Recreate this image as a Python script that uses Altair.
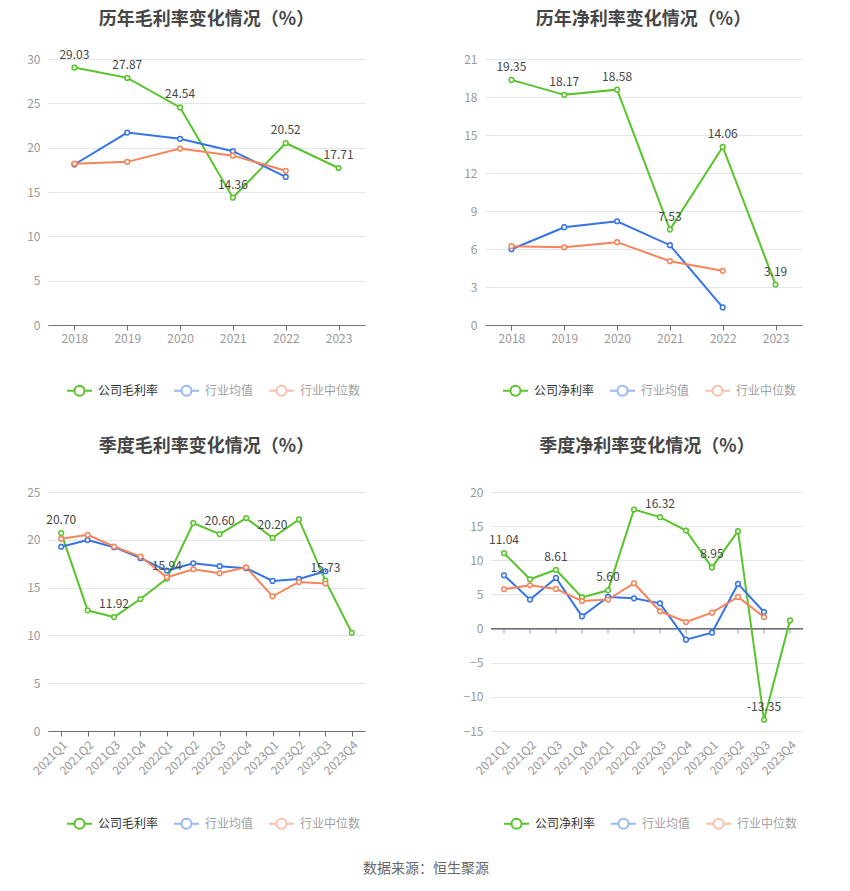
import altair as alt
import pandas as pd

FONT = "Noto Sans CJK SC"
GREEN = "#58C42A"
BLUE = "#3574E6"
ORANGE = "#F7835A"

years = ["2018", "2019", "2020", "2021", "2022", "2023"]
quarters = ["2021Q1", "2021Q2", "2021Q3", "2021Q4", "2022Q1", "2022Q2",
            "2022Q3", "2022Q4", "2023Q1", "2023Q2", "2023Q3", "2023Q4"]

# 历年毛利率
gm_year_company = [29.03, 27.87, 24.54, 14.36, 20.52, 17.71]
gm_year_avg = [18.1, 21.7, 21.0, 19.6, 16.7, None]
gm_year_median = [18.2, 18.4, 19.9, 19.1, 17.4, None]
gm_year_show = [True, True, True, True, True, True]

# 历年净利率
nm_year_company = [19.35, 18.17, 18.58, 7.53, 14.06, 3.19]
nm_year_avg = [5.98, 7.72, 8.19, 6.30, 1.39, None]
nm_year_median = [6.22, 6.14, 6.54, 5.04, 4.28, None]
nm_year_show = [True, True, True, True, True, True]

# 季度毛利率
gm_q_company = [20.70, 12.62, 11.92, 13.81, 15.94, 21.75, 20.60, 22.27, 20.20, 22.13, 15.73, 10.28]
gm_q_avg = [19.27, 19.97, 19.23, 18.08, 16.78, 17.55, 17.24, 17.03, 15.70, 15.91, 16.71, None]
gm_q_median = [20.10, 20.52, 19.30, 18.25, 16.08, 16.92, 16.50, 17.13, 14.09, 15.59, 15.42, None]
gm_q_show = [True, False, True, False, True, False, True, False, True, False, True, False]

# 季度净利率
nm_q_company = [11.04, 7.22, 8.61, 4.56, 5.60, 17.44, 16.32, 14.36, 8.95, 14.27, -13.35, 1.20]
nm_q_avg = [7.81, 4.24, 7.42, 1.79, 4.63, 4.43, 3.70, -1.63, -0.60, 6.54, 2.43, None]
nm_q_median = [5.76, 6.34, 5.80, 4.04, 4.24, 6.64, 2.53, 0.96, 2.33, 4.63, 1.69, None]
nm_q_show = [True, False, True, False, True, False, True, False, True, False, True, False]

AVG_NAME = "行业均值"
MED_NAME = "行业中位数"

LEGEND_PATH = ("M-1,0L-0.4,0M0.4,0L1,0"
               "M-0.4,0A0.4,0.4 0 1,0 0.4,0A0.4,0.4 0 1,0 -0.4,0Z")


def make_panel(title, periods, company_name, company, avg, median, show,
               y_min, y_max, y_step, width, height, rotate, zero_axis,
               legend_x, legend_y, title_offset):
    rows = []
    for name, vals in [(company_name, company), (AVG_NAME, avg), (MED_NAME, median)]:
        for i, (p, v) in enumerate(zip(periods, vals)):
            if v is None:
                continue
            lab = f"{v:.2f}" if (name == company_name and show[i]) else ""
            rows.append({"period": p, "series": name, "value": v, "label": lab})
    df = pd.DataFrame(rows)
    domain = [company_name, AVG_NAME, MED_NAME]

    color = alt.Color(
        "series:N",
        scale=alt.Scale(domain=domain, range=[GREEN, BLUE, ORANGE]),
        legend=alt.Legend(
            title=None, orient="none", direction="horizontal",
            legendX=legend_x, legendY=legend_y,
            symbolType=LEGEND_PATH, symbolSize=625, symbolStrokeWidth=2,
            symbolFillColor="white",
            labelFontSize=12, labelOffset=5, columnPadding=11,
            labelFont=FONT,
            labelColor=alt.ExprRef("datum.index == 0 ? '#333333' : '#a0a0a0'"),
            symbolOpacity=alt.ExprRef("datum.index == 0 ? 1 : 0.5"),
        ),
    )

    x_axis_kwargs = dict(
        title=None, grid=False, labelColor="#999999", labelFontSize=12,
        labelFont=FONT, labelOverlap=False,
    )
    if rotate:
        x_axis_kwargs.update(labelAngle=-45, labelAlign="right", labelBaseline="top")
    else:
        x_axis_kwargs.update(labelAngle=0)
    if zero_axis:
        x_axis_kwargs.update(domain=False, ticks=False, labelPadding=8)
    else:
        x_axis_kwargs.update(domain=True, domainColor="#6E7079", ticks=True,
                             tickColor="#6E7079", tickSize=5, labelPadding=3)

    x = alt.X("period:N", sort=periods,
              scale=alt.Scale(type="point", padding=0.5, domain=periods),
              axis=alt.Axis(**x_axis_kwargs))
    y = alt.Y("value:Q",
              scale=alt.Scale(domain=[y_min, y_max], nice=False, zero=False),
              axis=alt.Axis(values=list(range(y_min, y_max + 1, y_step)),
                            title=None, domain=False, ticks=False, grid=True,
                            gridColor="#E0E6F1", labelColor="#999999",
                            labelFontSize=12, labelPadding=8, labelFont=FONT,
                            labelOverlap=False))

    base = alt.Chart(df)
    layers = []
    if zero_axis:
        zero_df = pd.DataFrame({"period": periods, "value": [0] * len(periods)})
        layers.append(alt.Chart(zero_df).mark_rule(color="#6E7079", strokeWidth=1)
                      .encode(y=y))
        layers.append(alt.Chart(zero_df).mark_tick(orient="vertical", size=5,
                                                   thickness=1, color="#6E7079",
                                                   yOffset=2.5)
                      .encode(x=x, y=y))
    lines = base.mark_line(strokeWidth=2).encode(x=x, y=y, color=color)
    points = base.mark_point(shape="circle", filled=False, fill="white", size=22,
                             strokeWidth=1.5, opacity=1).encode(x=x, y=y, color=color)
    texts = base.transform_filter("datum.label != ''").mark_text(
        dy=-13, fontSize=12, color="#464646", font=FONT
    ).encode(x=x, y=y, text="label:N")
    layers += [lines, points, texts]

    return alt.layer(*layers).properties(
        width=width, height=height,
        title=alt.TitleParams(title, fontSize=18, fontWeight="bold", color="#464646",
                              anchor="middle", offset=title_offset, font=FONT),
    )


p1 = make_panel("历年毛利率变化情况（%）", years, "公司毛利率",
                gm_year_company, gm_year_avg, gm_year_median, gm_year_show,
                0, 30, 5, 317, 266, False, False, 18, 318, 20)
p2 = make_panel("历年净利率变化情况（%）", years, "公司净利率",
                nm_year_company, nm_year_avg, nm_year_median, nm_year_show,
                0, 21, 3, 317, 266, False, False, 17, 318, 24)
p3 = make_panel("季度毛利率变化情况（%）", quarters, "公司毛利率",
                gm_q_company, gm_q_avg, gm_q_median, gm_q_show,
                0, 25, 5, 317, 239, True, False, 18, 318, 30)
p4 = make_panel("季度净利率变化情况（%）", quarters, "公司净利率",
                nm_q_company, nm_q_avg, nm_q_median, nm_q_show,
                -15, 20, 5, 312, 239, True, True, 12, 318, 30)


def resolved(ch):
    return (ch.resolve_scale(color="independent", x="independent", y="independent")
              .resolve_legend(color="independent"))


row1 = resolved(alt.hconcat(p1, p2, spacing=98))
row2 = resolved(alt.hconcat(p3, p4, spacing=98))

chart = resolved(alt.vconcat(row1, row2, spacing=38)).properties(
    title=alt.TitleParams("数据来源：恒生聚源", orient="bottom", anchor="middle",
                          fontSize=14, fontWeight="normal", color="#666666",
                          offset=29, font=FONT, dx=11),
    padding={"left": 18, "top": 2, "right": 0, "bottom": 0},
).configure(font=FONT, background="white").configure_view(stroke="transparent", strokeWidth=0)

chart.save("out.html", embed_options={"renderer": "svg", "actions": False})
